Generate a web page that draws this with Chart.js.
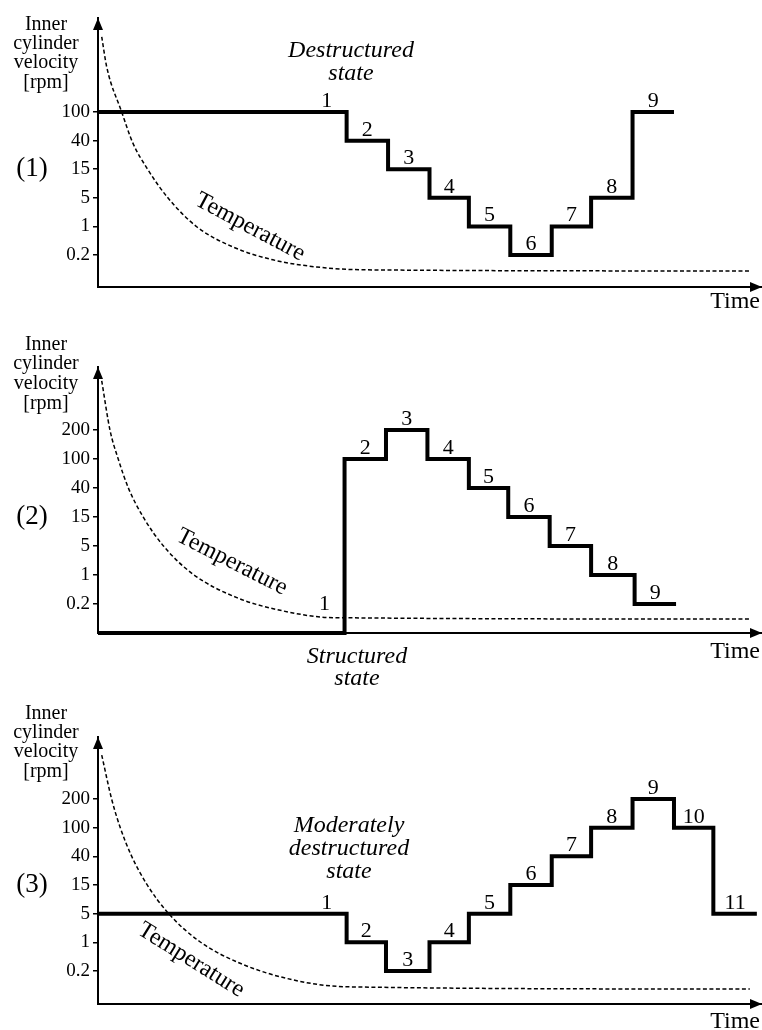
<!DOCTYPE html>
<html>
<head>
<meta charset="utf-8">
<script src="https://cdn.jsdelivr.net/npm/chart.js@4.4.1/dist/chart.umd.min.js"></script>
<style>
    html, body { margin: 0; padding: 0; background: #fff; }
    #wrap { position: relative; width: 762px; height: 1030px; overflow: hidden; }
    canvas { position: absolute; left: 0; }
</style>
</head>
<body>
<div id="wrap">
    <canvas id="panel1" width="762" height="330" style="top:0px"></canvas>
    <canvas id="panel2" width="762" height="360" style="top:330px"></canvas>
    <canvas id="panel3" width="762" height="340" style="top:690px"></canvas>
</div>
<script>
// tick labels of the velocity axis (equally spaced levels)
const ticksPanel1 = ["0.2", "1", "5", "15", "40", "100"];
const ticksPanel23 = ["0.2", "1", "5", "15", "40", "100", "200"];

const yTitle = ["Inner", "cylinder", "velocity", "[rpm]"];
const state1 = ["Destructured", "state"];
const state2 = ["Structured", "state"];
const state3 = ["Moderately", "destructured", "state"];

// (1) destructured start: step start times and speeds
const steps1Time = [0, 6, 7, 8, 8.95, 9.95, 10.95, 11.9, 12.9, 13.9];
const steps1Rpm = [100, 40, 15, 5, 1, 0.2, 1, 5, 100];
const temp1Time = [0.09, 0.21, 0.57, 0.84, 1.18, 1.67, 2.39, 3.26, 4.22, 5.28, 6.49, 15.73];
const temp1Level = [8.63, 7.58, 6.01, 4.92, 4.04, 3.03, 1.98, 1.28, 0.83, 0.58, 0.48, 0.44];

// (2) structured start (cylinder at rest first)
const steps2Time = [0, 5.95, 6.95, 7.95, 8.95, 9.9, 10.9, 11.9, 12.95, 13.95];
const steps2Rpm = [0, 100, 200, 100, 40, 15, 5, 1, 0.2];
const temp2Time = [0.09, 0.29, 0.49, 0.73, 1.09, 1.58, 2.3, 3.35, 4.47, 5.67, 15.73];
const temp2Level = [8.69, 6.99, 5.99, 5.01, 4.0, 3.0, 2.02, 1.22, 0.76, 0.53, 0.48];

// (3) moderately destructured start
const steps3Time = [0, 6, 6.95, 8, 8.95, 9.95, 10.95, 11.9, 12.9, 13.9, 14.85, 15.9];
const steps3Rpm = [5, 1, 0.2, 1, 5, 15, 40, 100, 200, 100, 5];
const temp3Time = [0.09, 0.33, 0.53, 0.8, 1.18, 1.7, 2.46, 3.43, 4.71, 6.0, 15.73];
const temp3Level = [8.53, 6.99, 6.03, 5.04, 4.02, 3.01, 2.02, 1.27, 0.69, 0.45, 0.37];

const SERIF = '"Liberation Serif", "Times New Roman", serif';

function rpmToLevel(rpm, ticks) {
    if (rpm === 0) return 0;
    return ticks.indexOf(String(rpm)) + 1;
}

function buildSteps(times, rpms, ticks) {
    const pts = rpms.map((r, i) => ({ x: times[i], y: rpmToLevel(r, ticks) }));
    pts.push({ x: times[times.length - 1], y: rpmToLevel(rpms[rpms.length - 1], ticks) });
    return pts;
}

function buildCurve(times, levels) {
    return times.map((t, i) => ({ x: t, y: levels[i] }));
}

function annotations(p) {
    return {
        id: "annotations",
        afterDraw(chart) {
            const ctx = chart.ctx;
            const xs = chart.scales.x;
            const ys = chart.scales.y;
            const area = chart.chartArea;
            ctx.save();
            ctx.fillStyle = "#000";

            // axis arrow heads
            ctx.beginPath();
            ctx.moveTo(area.left, area.top);
            ctx.lineTo(area.left - 5, area.top + 12);
            ctx.lineTo(area.left + 5, area.top + 12);
            ctx.closePath();
            ctx.fill();
            ctx.beginPath();
            ctx.moveTo(area.right + 1, area.bottom);
            ctx.lineTo(area.right - 11, area.bottom - 5);
            ctx.lineTo(area.right - 11, area.bottom + 5);
            ctx.closePath();
            ctx.fill();

            // axis title
            ctx.font = "20px " + SERIF;
            ctx.textAlign = "center";
            ctx.textBaseline = "alphabetic";
            yTitle.forEach((line, i) => ctx.fillText(line, 46, p.titleY[i]));

            // panel mark
            ctx.font = "27px " + SERIF;
            ctx.textBaseline = "middle";
            ctx.fillText(p.mark, 32, ys.getPixelForValue(4));

            // state caption
            ctx.font = "italic 24px " + SERIF;
            ctx.textBaseline = "alphabetic";
            p.state.forEach((line, i) => ctx.fillText(line, p.stateX, p.stateY[i]));

            // step numbers
            ctx.font = "22px " + SERIF;
            for (let i = 0; i < p.rpms.length; i++) {
                const level = rpmToLevel(p.rpms[i], p.ticks);
                let x = (xs.getPixelForValue(p.times[i]) + xs.getPixelForValue(p.times[i + 1])) / 2;
                if (i === 0) x = xs.getPixelForValue(p.times[1]) - 20;
                const y = level === 0 ? ys.getPixelForValue(0) - 23 : ys.getPixelForValue(level) - 5;
                ctx.fillText(String(i + 1), x, y);
            }

            // time label
            ctx.font = "24px " + SERIF;
            ctx.textAlign = "right";
            ctx.fillText("Time", 760, p.timeY);

            // temperature label
            ctx.translate(p.tempX, p.tempY);
            ctx.rotate((p.tempAngle * Math.PI) / 180);
            ctx.font = "24px " + SERIF;
            ctx.textAlign = "center";
            ctx.textBaseline = "middle";
            ctx.fillText("Temperature", 0, 0);
            ctx.restore();
        },
    };
}

function makeChart(id, p) {
    return new Chart(document.getElementById(id), {
        type: "line",
        data: {
            datasets: [
                {
                    data: buildSteps(p.times, p.rpms, p.ticks),
                    stepped: true,
                    borderColor: "#000",
                    borderWidth: 4,
                    borderJoinStyle: "miter",
                    borderCapStyle: "butt",
                    pointRadius: 0,
                    fill: false,
                    clip: false,
                },
                {
                    data: buildCurve(p.tempTime, p.tempLevel),
                    borderColor: "#000",
                    borderWidth: 1.5,
                    borderDash: [4, 2.5],
                    cubicInterpolationMode: "monotone",
                    pointRadius: 0,
                    fill: false,
                    clip: false,
                },
            ],
        },
        options: {
            responsive: false,
            animation: false,
            events: [],
            layout: { padding: { top: p.padTop, right: 1, bottom: p.padBottom, left: 0 } },
            plugins: { legend: { display: false }, tooltip: { enabled: false } },
            scales: {
                x: {
                    type: "linear",
                    min: 0,
                    max: 16,
                    ticks: { display: false },
                    grid: { display: false },
                    border: { color: "#000", width: 2 },
                    afterFit(s) { s.height = 0; },
                },
                y: {
                    type: "linear",
                    min: p.yMin,
                    max: p.yMax,
                    afterBuildTicks(s) {
                        s.ticks = p.ticks.map((_, i) => ({ value: i + 1 }));
                    },
                    ticks: {
                        autoSkip: false,
                        color: "#000",
                        padding: 3,
                        font: { family: SERIF, size: 19 },
                        callback: (v) => p.ticks[v - 1],
                    },
                    grid: { drawOnChartArea: false, tickLength: 5, color: "#000", lineWidth: 1.5 },
                    border: { color: "#000", width: 2 },
                    afterFit(s) { s.width = 98; },
                },
            },
        },
        plugins: [annotations(p)],
    });
}

makeChart("panel1", {
    times: steps1Time, rpms: steps1Rpm, ticks: ticksPanel1,
    tempTime: temp1Time, tempLevel: temp1Level,
    padTop: 18, padBottom: 43, yMin: -0.12, yMax: 9.29,
    titleY: [30, 49, 68, 88], mark: "(1)",
    state: state1, stateX: 351, stateY: [57, 80],
    tempX: 250, tempY: 227, tempAngle: 28, timeY: 308,
});

makeChart("panel2", {
    times: steps2Time, rpms: steps2Rpm, ticks: ticksPanel23,
    tempTime: temp2Time, tempLevel: temp2Level,
    padTop: 37, padBottom: 57, yMin: 0, yMax: 9.17,
    titleY: [20, 39, 59, 79], mark: "(2)",
    state: state2, stateX: 357, stateY: [333, 355],
    tempX: 232, tempY: 232, tempAngle: 27, timeY: 328,
});

makeChart("panel3", {
    times: steps3Time, rpms: steps3Rpm, ticks: ticksPanel23,
    tempTime: temp3Time, tempLevel: temp3Level,
    padTop: 47, padBottom: 26, yMin: -0.15, yMax: 9.16,
    titleY: [29, 48, 67, 87], mark: "(3)",
    state: state3, stateX: 349, stateY: [142, 165, 188],
    tempX: 191, tempY: 270, tempAngle: 32, timeY: 338,
});
</script>
</body>
</html>
